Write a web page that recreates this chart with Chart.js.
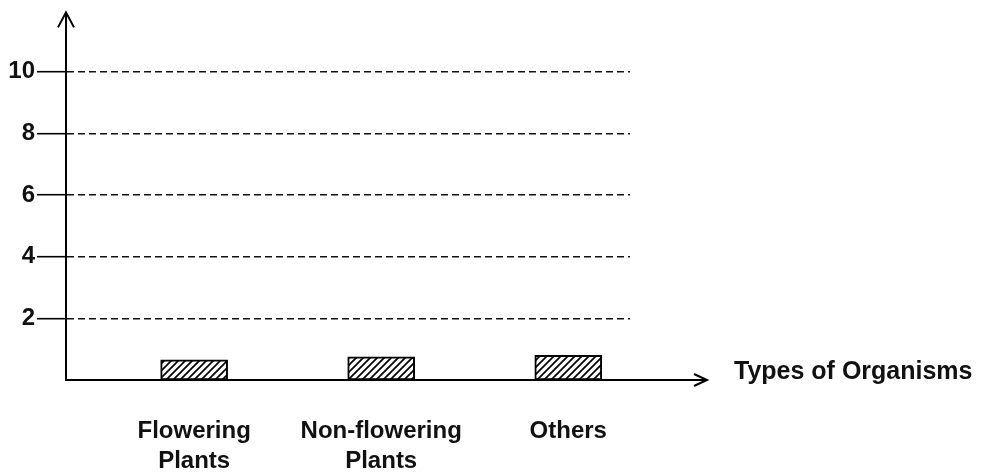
<!DOCTYPE html>
<html>
<head>
<meta charset="utf-8">
<script src="https://cdn.jsdelivr.net/npm/chart.js@4/dist/chart.umd.min.js"></script>
<style>
  html, body { margin: 0; padding: 0; background: #fff; }
  #wrap { width: 990px; height: 473px; position: relative; }
</style>
</head>
<body>
<div id="wrap"><canvas id="c" width="990" height="473"></canvas></div>
<script>
// ---- data ----
const categories = [["Flowering", "Plants"], ["Non-flowering", "Plants"], ["Others"]];
const categoryIndex = [0, 1, 2];
const values = [0.65, 0.75, 0.8];
const yTicks = [2, 4, 6, 8, 10];
const xAxisTitle = "Types of Organisms";

// ---- hatch pattern ----
function hatch() {
  const s = 7;
  const c = document.createElement('canvas');
  c.width = s; c.height = s;
  const g = c.getContext('2d');
  g.fillStyle = '#fff';
  g.fillRect(0, 0, s, s);
  g.strokeStyle = '#000';
  g.lineWidth = 1.7;
  g.beginPath();
  g.moveTo(0, s); g.lineTo(s, 0);
  g.moveTo(-1, 1); g.lineTo(1, -1);
  g.moveTo(s - 1, s + 1); g.lineTo(s + 1, s - 1);
  g.stroke();
  return g.createPattern(c, 'repeat');
}

const FONT = "'Liberation Sans', Arial, Helvetica, sans-serif";

const arrows = {
  id: 'arrows',
  afterDraw(chart) {
    const ctx = chart.ctx;
    const a = chart.chartArea;
    const y0 = Math.round(chart.scales.y.getPixelForValue(0));
    ctx.save();
    ctx.strokeStyle = '#000';
    ctx.fillStyle = '#000';
    ctx.lineWidth = 2;
    // y-axis extension + arrow head
    ctx.beginPath();
    ctx.moveTo(a.left, a.top);
    ctx.lineTo(a.left, a.top - 3);
    ctx.stroke();
    ctx.beginPath();
    ctx.moveTo(a.left - 8, a.top + 11);
    ctx.lineTo(a.left, a.top - 4);
    ctx.lineTo(a.left + 8, a.top + 11);
    ctx.stroke();
    // x-axis extension + arrow
    ctx.beginPath();
    ctx.moveTo(a.right, y0);
    ctx.lineTo(a.right + 77, y0);
    ctx.stroke();
    ctx.beginPath();
    ctx.moveTo(a.right + 64, y0 - 6);
    ctx.lineTo(a.right + 77, y0);
    ctx.lineTo(a.right + 64, y0 + 6);
    ctx.stroke();
    // axis title
    ctx.font = "bold 25px " + FONT;
    ctx.textAlign = 'left';
    ctx.textBaseline = 'alphabetic';
    ctx.fillStyle = '#111';
    ctx.fillText(xAxisTitle, a.right + 104, y0 - 1);
    ctx.restore();
  }
};

new Chart(document.getElementById('c'), {
  type: 'bar',
  data: {
    datasets: [{
      data: values.map((v, i) => ({ x: categoryIndex[i], y: v })),
      backgroundColor: hatch(),
      borderColor: '#000',
      borderWidth: 2,
      borderSkipped: false,
      barThickness: 67
    }]
  },
  options: {
    responsive: false,
    animation: false,
    events: [],
    layout: { padding: { top: 12, right: 360, left: 0, bottom: 0 } },
    plugins: { legend: { display: false }, tooltip: { enabled: false } },
    scales: {
      x: {
        type: 'linear',
        offset: false,
        min: -0.685,
        max: 2.33,
        grid: { display: false, drawTicks: false, offset: false },
        border: { display: true, color: '#000', width: 2 },
        afterBuildTicks(scale) { scale.ticks = categoryIndex.map(v => ({ value: v })); },
        afterFit(scale) { scale.height = 93; },
        ticks: {
          autoSkip: false,
          maxRotation: 0,
          padding: 36,
          color: '#111',
          font: { family: FONT, size: 24, weight: 'bold', lineHeight: 1.25 },
          callback: (v) => categories[categoryIndex.indexOf(v)]
        }
      },
      y: {
        min: 0,
        max: 11.79,
        afterBuildTicks(scale) { scale.ticks = yTicks.map(v => ({ value: v })); },
        afterFit(scale) { scale.width = 66; },
        grid: {
          color: '#111',
          lineWidth: 1.4,
          drawTicks: true,
          tickLength: 29,
          tickColor: '#000',
          tickWidth: 1.6
        },
        border: { display: true, color: '#000', width: 2, dash: [7, 4] },
        ticks: {
          padding: 2,
          color: '#111',
          font: { family: FONT, size: 24, weight: 'bold' }
        }
      }
    }
  },
  plugins: [arrows]
});
</script>
</body>
</html>
